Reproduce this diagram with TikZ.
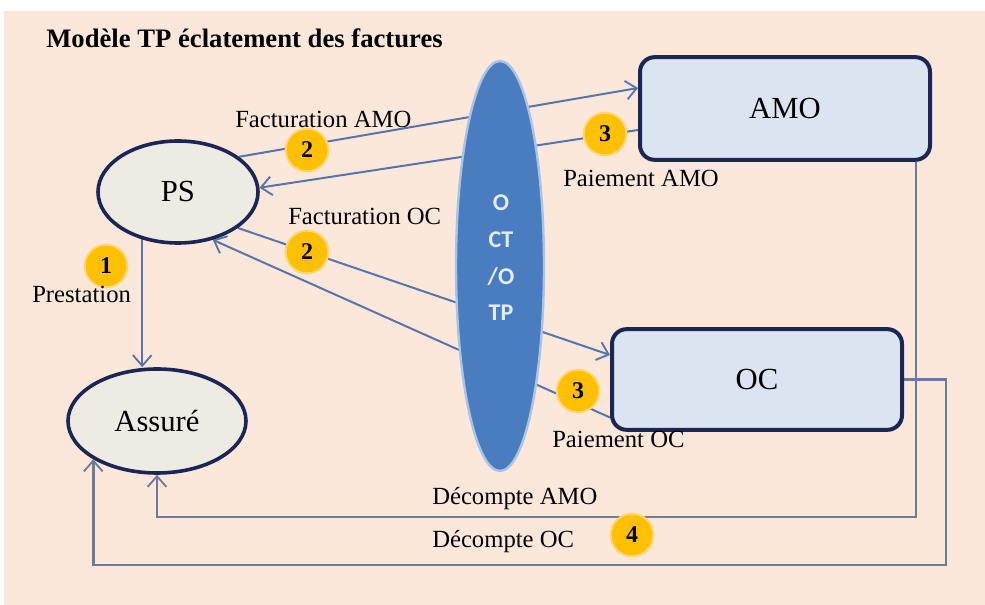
\documentclass[tikz,border=0pt]{standalone}
\usepackage{fontspec}
\setmainfont{Liberation Serif}
\newfontfamily\ctfont{Carlito}
\usetikzlibrary{shapes.geometric,arrows.meta,calc}
\definecolor{peach}{HTML}{FCE8DA}
\definecolor{navy}{HTML}{1B2657}
\definecolor{ovalfill}{HTML}{EDEBE2}
\definecolor{boxfill}{HTML}{DBE5F2}
\definecolor{midblue}{HTML}{4A7DBF}
\definecolor{midedge}{HTML}{A9C4E6}
\definecolor{midtext}{HTML}{E4ECF7}
\definecolor{gold}{HTML}{FFC000}
\definecolor{flowblue}{HTML}{5874AC}
\definecolor{decgray}{HTML}{6C7B97}
\pgfdeclarelayer{back}
\pgfdeclarelayer{lines}
\pgfsetlayers{back,lines,main}
\begin{document}
\begin{tikzpicture}[x=0.75pt,y=-0.75pt,
  oval/.style={ellipse, draw=navy, line width=2.7pt, fill=ovalfill, inner sep=0pt, font=\fontsize{23}{26}\selectfont},
  box/.style={rectangle, rounded corners=11pt, draw=navy, line width=3pt, fill=boxfill, inner sep=0pt, font=\fontsize{23}{26}\selectfont},
  badge/.style={circle, fill=gold, draw=gold!45!peach, line width=1.5pt, minimum size=32pt, inner sep=0pt, font=\bfseries\fontsize{18}{20}\selectfont},
  lbl/.style={anchor=base west, inner sep=0pt, font=\fontsize{18.5}{20}\selectfont},
  tip/.style={-{Straight Barb[length=8pt,width=14pt,line width=1.4pt]}},
  flow/.style={draw=flowblue, line width=1.5pt, tip},
  dec/.style={draw=decgray, line width=1.9pt, tip}
]
\useasboundingbox (0,0) rectangle (985,605);
\begin{pgfonlayer}{back}
  \fill[white] (0,0) rectangle (985,605);
  \fill[peach] (4,11) rectangle (985,605);
\end{pgfonlayer}

% nodes
\node[ellipse, fill=midblue, draw=midedge, line width=1.8pt, minimum width=66pt, minimum height=307.5pt, inner sep=0pt] (OCT) at (500,266) {};
\node[text=midtext, align=center, inner sep=0pt, font=\ctfont\bfseries\fontsize{18}{27.5}\selectfont] (OCTtext) at (501,258) {O\\CT\\/O\\TP};
\node[oval, minimum width=120pt, minimum height=76.5pt] (PS) at (178,192) {PS};
\node[oval, minimum width=133.5pt, minimum height=78pt] (Assure) at (157,421) {Assuré};
\node[box, minimum width=217.5pt, minimum height=77pt] (AMO) at (785,108.5) {AMO};
\node[box, minimum width=217.5pt, minimum height=75.5pt] (OC) at (757,379.5) {OC};

\coordinate (dAMO) at (0,517);
\coordinate (dOC) at (0,565);

% connectors
\begin{pgfonlayer}{lines}
  \draw[flow] (PS.30) -- ($(AMO.west)+(0,-20.5)$);
  \draw[flow] ($(AMO.west)+(0,21.5)$) -- (PS.3);
  \draw[flow] (PS.-31) -- ($(OC.west)+(0,-24.5)$);
  \draw[flow] ($(OC.west)+(0,38)$) -- (PS.-54);
  \draw[flow] (PS.-127) -- (PS.-127 |- Assure.north);
  \draw[dec] ($(AMO.south east)+(-16,0)$) |- (Assure.south |- dAMO) -- (Assure.south);
  \draw[dec] (OC.east) -- ++(42,0) |- (Assure.211 |- dOC) -- (Assure.211);
\end{pgfonlayer}

% badges
\node[badge] (b2a) at (307,150) {2};
\node[badge] (b3a) at (605,134) {3};
\node[badge] (b2b) at (307,252) {2};
\node[badge] (b1)  at (106,266) {1};
\node[badge] (b3b) at (578,391) {3};
\node[badge] (b4)  at (632,535) {4};

% labels
\node[anchor=base west, inner sep=0pt, font=\bfseries\fontsize{20}{24}\selectfont] (title) at (46,48) {Modèle TP éclatement des factures};
\node[lbl] (lFA) at (235,128) {Facturation AMO};
\node[lbl] (lPA) at (563,187) {Paiement AMO};
\node[lbl] (lFO) at (288,225) {Facturation OC};
\node[lbl] (lPr) at (32,303) {Prestation};
\node[lbl] (lPO) at (552,448) {Paiement OC};
\node[lbl] (lDA) at (432,504) {Décompte AMO};
\node[lbl] (lDO) at (432,547) {Décompte OC};
\end{tikzpicture}
\end{document}
